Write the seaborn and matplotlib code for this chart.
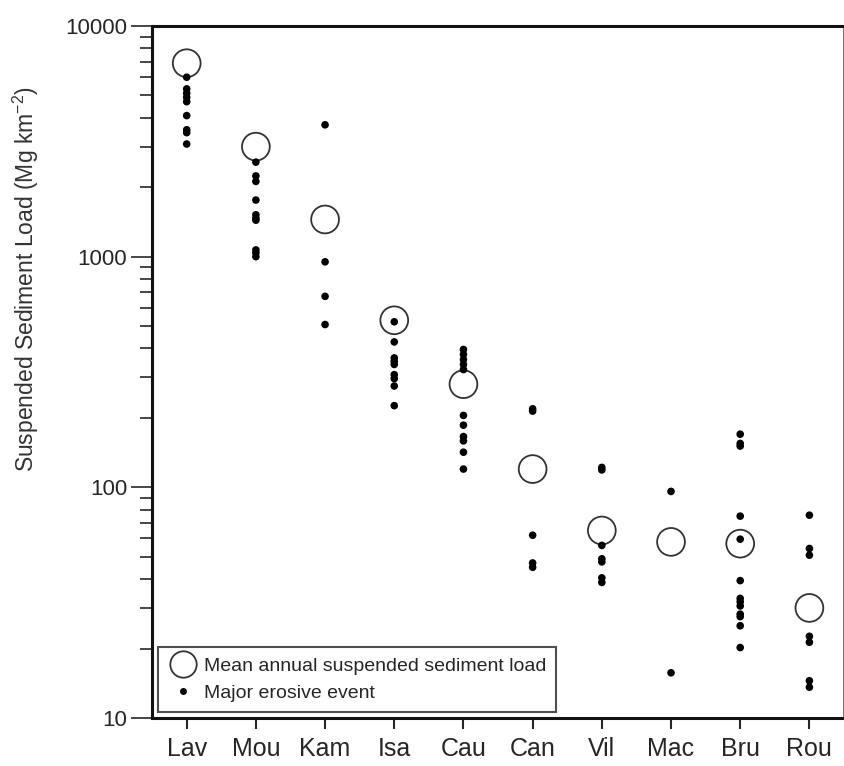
import seaborn as sns
import matplotlib.pyplot as plt
import matplotlib.ticker as mticker
from matplotlib.lines import Line2D
import pandas as pd

sns.set_style("white")
plt.rcParams['font.family'] = ['Liberation Sans', 'DejaVu Sans']
plt.rcParams['mathtext.default'] = 'regular'

# catchments and mean annual suspended sediment load (Mg km-2)
sites = ["Lav", "Mou", "Kam", "Isa", "Cau", "Can", "Vil", "Mac", "Bru", "Rou"]
mean_load = [6900, 3000, 1450, 530, 280, 120, 65, 58, 57, 30]

# major erosive events per catchment
lav_events = [6000, 5340, 5110, 4910, 4700, 4090, 3550, 3450, 3080]
mou_events = [2570, 2240, 2120, 1760, 1520, 1470, 1440, 1070, 1040, 1000]
kam_events = [3730, 950, 673, 508]
isa_events = [522, 427, 364, 352, 341, 308, 296, 275, 226]
cau_events = [396, 377, 358, 341, 324, 205, 186, 166, 159, 142, 120]
can_events = [219, 214, 62, 47, 45]
vil_events = [122, 119, 56, 49, 47.5, 40.5, 38.7]
mac_events = [96, 15.7]
bru_events = [170, 155, 151, 75, 59.6, 39.4, 33, 31.9, 30.6, 28.2, 27.5, 25.1, 20.2]
rou_events = [75.7, 54.3, 50.8, 22.6, 21.3, 14.5, 13.6]

events = [lav_events, mou_events, kam_events, isa_events, cau_events,
          can_events, vil_events, mac_events, bru_events, rou_events]

df_mean = pd.DataFrame({"Site": sites, "Load": mean_load})
df_ev = pd.DataFrame({
    "Site": [s for s, ev in zip(sites, events) for _ in ev],
    "Load": [v for ev in events for v in ev],
})

fig = plt.figure(figsize=(8.45, 7.66), dpi=100)
ax = fig.add_axes([0.180, 0.0627, 0.8188, 0.9033])

sns.scatterplot(data=df_mean, x="Site", y="Load", ax=ax, marker="o", s=400,
                facecolor="none", edgecolor="#333333", linewidth=1.3, zorder=2)
sns.scatterplot(data=df_ev, x="Site", y="Load", ax=ax, marker="o", s=30,
                color="black", edgecolor="none", zorder=3)

ax.set_yscale("log")
ax.set_ylim(10, 10000)
ax.set_xlim(-0.5, len(sites) - 0.5)
ax.yaxis.set_major_formatter(mticker.FuncFormatter(lambda v, p: f"{v:g}"))
ax.yaxis.set_minor_formatter(mticker.NullFormatter())

ax.set_xlabel("")
ax.set_ylabel("Suspended Sediment Load (Mg km$^{-2}$)", fontsize=16.5,
              color="#333333")
ax.yaxis.set_label_coords(-0.161, 0.634)
ax.tick_params(axis="x", labelsize=18, length=8, width=1.5, direction="out",
               pad=6, bottom=True)
ax.tick_params(axis="y", which="major", labelsize=16, length=15, width=1.2,
               direction="out", pad=3, left=True)
ax.tick_params(axis="y", which="minor", length=9, width=1.2, direction="out",
               left=True)

for side in ["left", "bottom", "top"]:
    ax.spines[side].set_linewidth(2.2)
    ax.spines[side].set_color("#111111")
ax.spines["right"].set_linewidth(1.2)
ax.spines["right"].set_color("#555555")

handles = [
    Line2D([], [], linestyle="none", marker="o", markersize=19,
           markerfacecolor="none", markeredgecolor="#333333", markeredgewidth=1.3),
    Line2D([], [], linestyle="none", marker="o", markersize=5,
           markerfacecolor="black", markeredgecolor="none"),
]
leg = ax.legend(handles, ["Mean annual suspended sediment load", "Major erosive event"],
                loc="lower left", bbox_to_anchor=(0.008, 0.009), borderaxespad=0,
                fontsize=14, frameon=True, fancybox=False, handletextpad=0.3,
                handlelength=1.6, borderpad=0.5, labelspacing=0.5)
leg.get_frame().set_edgecolor("#222222")
leg.get_frame().set_linewidth(1.5)

fig.savefig("out.png", dpi=100)
plt.close()
